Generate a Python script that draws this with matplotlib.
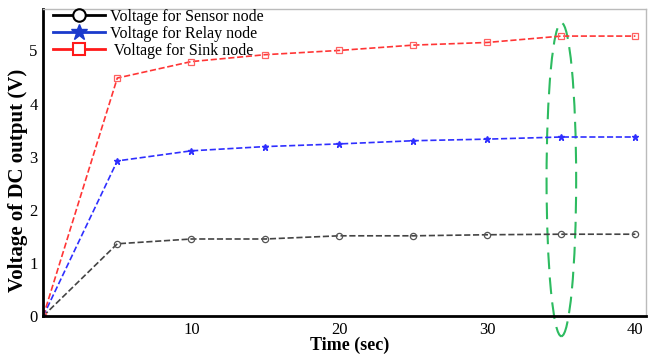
import matplotlib
matplotlib.use("Agg")
import matplotlib.pyplot as plt
from matplotlib.lines import Line2D
from matplotlib.patches import Ellipse

time_sec = [0, 5, 10, 15, 20, 25, 30, 35, 40]
sensor_v = [0, 1.36, 1.45, 1.45, 1.51, 1.51, 1.53, 1.54, 1.54]
relay_v = [0, 2.92, 3.11, 3.19, 3.24, 3.30, 3.33, 3.37, 3.37]
sink_v = [0, 4.48, 4.79, 4.92, 5.00, 5.10, 5.15, 5.27, 5.27]
labels = ["Voltage for Sensor node", "Voltage for Relay node", " Voltage for Sink node"]
x_ticks = [10, 20, 30, 40]
y_ticks = [0, 1, 2, 3, 4, 5]

plt.rcParams['font.family'] = ['Liberation Serif', 'DejaVu Serif']

fig = plt.figure(figsize=(6.48, 3.54), dpi=100)
ax = fig.add_axes([0.0668, 0.1073, 0.9297, 0.8673])

ax.plot(time_sec, sensor_v, ls='--', color='#444444', lw=1.2, marker='o', ms=4.5,
        mfc='none', mec='#555555', mew=0.9)
ax.plot(time_sec, relay_v, ls='--', color='#2f2fff', lw=1.2, marker='*', ms=5,
        mfc='#2f2fff', mec='#2f2fff')
ax.plot(time_sec, sink_v, ls='--', color='#ff3535', lw=1.2, marker='s', ms=5,
        mfc='none', mec='#ff6060', mew=0.9)

ell = Ellipse((35, 2.57), width=2.0, height=5.9, fill=False, edgecolor='#2dbb60',
              lw=1.5, ls=(0, (8, 4)), clip_on=False)
ax.add_patch(ell)

ax.set_xlim(0, 40.7)
ax.set_ylim(0, 5.78)
ax.set_xticks(x_ticks)
ax.set_yticks(y_ticks)
ax.tick_params(length=0, labelsize=12, pad=4)
for s in ['left', 'bottom']:
    ax.spines[s].set_linewidth(2)
    ax.spines[s].set_color('black')
for s in ['top', 'right']:
    ax.spines[s].set_linewidth(1)
    ax.spines[s].set_color('#bbbbbb')

ax.set_xlabel("Time (sec)", fontsize=13, fontweight='bold')
ax.set_ylabel("Voltage of DC output (V)", fontsize=15, fontweight='bold')
ax.xaxis.set_label_coords(0.509, -0.068)
ax.yaxis.set_label_coords(-0.026, 0.443)

handles = [
    Line2D([], [], color='black', lw=2, marker='o', ms=9, mfc='white', mec='black', mew=1.5),
    Line2D([], [], color='#1a3acc', lw=2, marker='*', ms=12, mfc='#1a3acc', mec='#1a3acc'),
    Line2D([], [], color='#ff1a1a', lw=2, marker='s', ms=9, mfc='white', mec='#ff1a1a', mew=1.5),
]
ax.legend(handles, labels, loc='upper left', bbox_to_anchor=(0.013, 1.005), frameon=False,
          fontsize=11.5, handlelength=3.3, handletextpad=0.3, labelspacing=0.05,
          borderaxespad=0.0, borderpad=0.1)

fig.savefig("out.png", dpi=100)
